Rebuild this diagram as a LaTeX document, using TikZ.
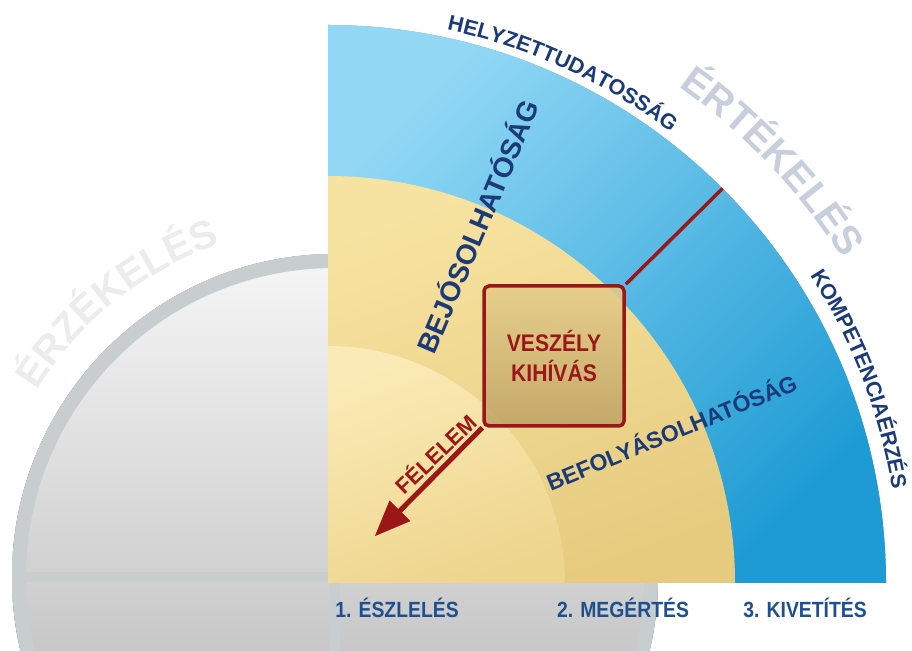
\documentclass[tikz,border=0pt]{standalone}
\usepackage{fontspec}
\usepackage{graphicx}
\setmainfont{Liberation Sans}
\newfontfamily\rb{Liberation Sans Bold}
\usetikzlibrary{decorations.text,arrows.meta}
\definecolor{blueL}{HTML}{92D8F5}
\definecolor{blueD}{HTML}{1E9BD4}
\definecolor{yelL}{HTML}{F7E3A1}
\definecolor{yelD}{HTML}{E6CB7E}
\definecolor{inL}{HTML}{FAEBB6}
\definecolor{inD}{HTML}{EED58E}
\definecolor{boxL}{HTML}{E6CD8A}
\definecolor{boxD}{HTML}{BFA365}
\definecolor{redc}{HTML}{9A1717}
\definecolor{navy}{HTML}{1B3A77}
\definecolor{navyB}{HTML}{1F4F8E}
\definecolor{ertc}{HTML}{C7CFDD}
\definecolor{erzc}{HTML}{ECECEC}
\definecolor{grayA}{HTML}{F6F6F6}
\definecolor{grayB}{HTML}{ABABAB}
\definecolor{ringc}{HTML}{C8CDD0}
\definecolor{shadowc}{HTML}{9A9A9A}
\newcommand\cond[1]{\scalebox{0.88}[1]{#1}}
\tikzset{
  ringline/.style={draw=ringc,line width=14pt},
  crossline/.style={draw=ringc,line width=10pt},
  vbox/.style={draw=redc,line width=3.5pt,rounded corners=5pt,minimum size=140pt,
     top color=boxL,bottom color=boxD,fill opacity=0.88,text opacity=1,
     text=redc,align=center,font=\rb\fontsize{24}{30}\selectfont},
  redline/.style={draw=redc,line width=3.5pt},
  redarrow/.style={draw=redc,line width=5pt,-{Triangle[length=36pt,width=28pt]}},
  ringlabel/.style={text=navy,font=\rb\fontsize{23}{23}\selectfont},
  steplabel/.style={text=navyB,font=\rb\fontsize{22}{22}\selectfont},
}
\begin{document}
\begin{tikzpicture}[x=1pt,y=1pt]
\useasboundingbox (0,0) rectangle (912,650);
\coordinate (O) at (328,67);
\coordinate (G) at (335,73);
% grey disc
\begin{scope}
\clip (0,0) rectangle (912,650);
\fill[top color=grayA,bottom color=grayB] (G) circle[radius=323];
\draw[crossline] ([xshift=-316pt]G) -- ([xshift=316pt]G);
\draw[crossline] (G) -- ([yshift=-316pt]G);
\draw[ringline] (G) circle[radius=316];
\end{scope}
\path[decorate,decoration={text along path,text align=center,text color=erzc,
  text={|\rb\fontsize{40}{40}\selectfont|ÉRZÉKELÉS}}]
  (G) ++(150:352) arc[start angle=150,end angle=107,radius=352];
% quadrant shadow
\fill[shadowc,shift={(-2,-3)}] (O) -- ++(558,0) arc[start angle=0,end angle=90,radius=558] -- cycle;
% rings
\shade[top color=blueL,bottom color=blueD,shading angle=45]
  (O) -- ++(558,0) arc[start angle=0,end angle=90,radius=558] -- cycle;
\shade[top color=yelL,bottom color=yelD,shading angle=20]
  (O) -- ++(407,0) arc[start angle=0,end angle=90,radius=407] -- cycle;
\shade[top color=inL,bottom color=inD,shading angle=20]
  (O) -- ++(237,0) arc[start angle=0,end angle=90,radius=237] -- cycle;
% box, line, arrow
\node[vbox] (box) at (554,294) {\cond{VESZÉLY}\\\cond{KIHÍVÁS}};
\path (O) ++(45:558) coordinate (rim);
\path (O) ++(45:66) coordinate (tip);
\draw[redline] (box.north east) -- (rim);
\draw[redarrow] (box.south west) -- (tip);
% straight labels
\node[ringlabel,rotate=67,font=\rb\fontsize{28}{28}\selectfont] (bej) at (476,424) {BEJÓSOLHATÓSÁG};
\node[ringlabel,rotate=22.4] (befoly) at (671,219) {BEFOLYÁSOLHATÓSÁG};
\node[text=redc,font=\rb\fontsize{22}{22}\selectfont,rotate=44] (fel) at (435,197) {FÉLELEM};
% arc labels
\path[decorate,decoration={text along path,text align=center,text color=navy,
  text={|\rb\fontsize{21.5}{21.5}\selectfont|HELYZETTUDATOSSÁG}}]
  (O) ++(80.3:566) arc[start angle=80.3,end angle=50.3,radius=566];
\path[decorate,decoration={text along path,text align=center,text color=navy,
  text={|\rb\fontsize{21.5}{21.5}\selectfont|KOMPETENCIAÉRZÉS}}]
  (O) ++(36:572) arc[start angle=36,end angle=6,radius=572];
\path[decorate,decoration={text along path,text align=center,text color=ertc,
  text={|\rb\fontsize{40}{40}\selectfont|ÉRTÉKELÉS}}]
  (O) ++(63.5:608) arc[start angle=63.5,end angle=23.5,radius=608];
% step labels
\node[steplabel] (s1) at (397,42) {\cond{1. ÉSZLELÉS}};
\node[steplabel] (s2) at (623,42) {\cond{2. MEGÉRTÉS}};
\node[steplabel] (s3) at (805,42) {\cond{3. KIVETÍTÉS}};
\end{tikzpicture}
\end{document}
